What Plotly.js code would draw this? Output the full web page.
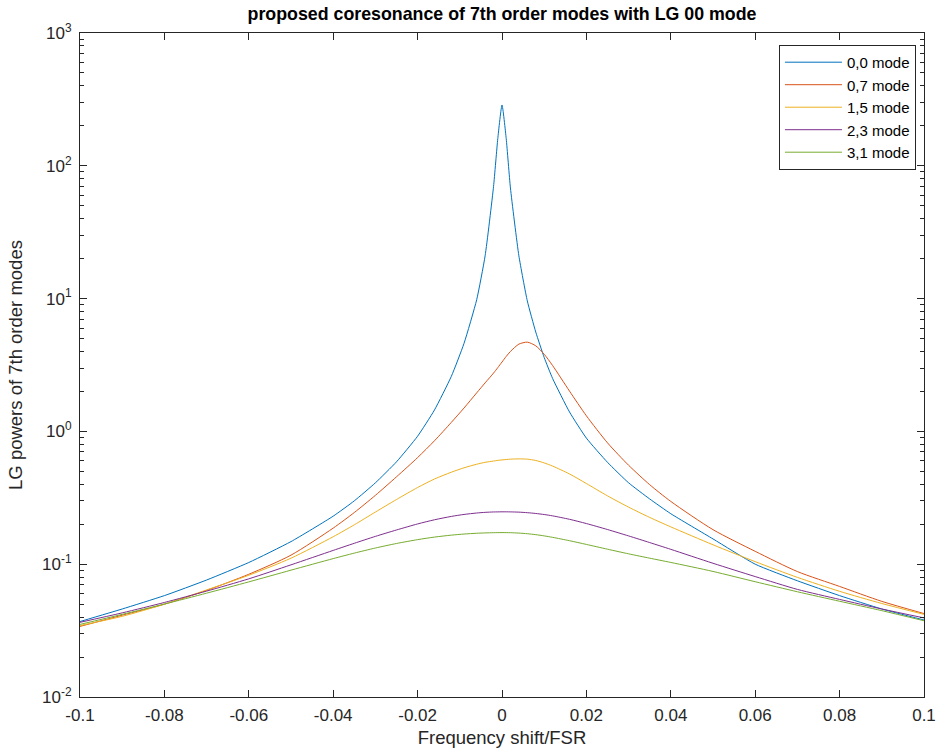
<!DOCTYPE html>
<html><head><meta charset="utf-8">
<script src="https://cdn.plot.ly/plotly-3.0.1.min.js"></script>
<style>html,body{margin:0;padding:0;background:#fff}</style>
</head><body><div id="chart" style="width:941px;height:750px"></div>
<script>
// Frequency shift / FSR (sample positions)
const freqShift = [-0.1, -0.09, -0.08, -0.07, -0.06, -0.05, -0.04, -0.035, -0.03, -0.025, -0.02, -0.016, -0.012, -0.009, -0.006, -0.004, -0.002, -0.001, 0, 0.001, 0.002, 0.004, 0.006, 0.008, 0.01, 0.012, 0.016, 0.02, 0.025, 0.03, 0.035, 0.04, 0.05, 0.06, 0.07, 0.08, 0.09, 0.1];

const mode00 = [0.037, 0.046, 0.058, 0.076, 0.103, 0.148, 0.23, 0.30, 0.41, 0.59, 0.92, 1.45, 2.6, 4.6, 9.8, 21, 70, 160, 287, 160, 68, 21, 9.6, 5.6, 3.6, 2.5, 1.4, 0.89, 0.585, 0.41, 0.31, 0.24, 0.155, 0.100, 0.075, 0.058, 0.046, 0.038];
const mode07 = [0.034, 0.0413, 0.050, 0.0635, 0.084, 0.117, 0.187, 0.245, 0.33, 0.455, 0.635, 0.85, 1.17, 1.5, 1.95, 2.32, 2.75, 3.02, 3.33, 3.67, 4.0, 4.54, 4.7, 4.41, 3.81, 3.13, 2.01, 1.31, 0.82, 0.556, 0.397, 0.297, 0.182, 0.125, 0.088, 0.068, 0.0525, 0.0425];
const mode15 = [0.0345, 0.0405, 0.050, 0.064, 0.0826, 0.111, 0.161, 0.198, 0.247, 0.307, 0.378, 0.438, 0.493, 0.532, 0.566, 0.585, 0.598, 0.605, 0.610, 0.614, 0.618, 0.621, 0.618, 0.604, 0.579, 0.548, 0.478, 0.405, 0.327, 0.269, 0.225, 0.191, 0.140, 0.1045, 0.0796, 0.0625, 0.0506, 0.0419];
const mode23 = [0.0365, 0.043, 0.0515, 0.0627, 0.0776, 0.0989, 0.127, 0.1437, 0.162, 0.181, 0.201, 0.216, 0.229, 0.237, 0.2429, 0.2457, 0.2474, 0.2477, 0.248, 0.248, 0.2477, 0.2466, 0.2443, 0.241, 0.2366, 0.2312, 0.2178, 0.2023, 0.1824, 0.1633, 0.1455, 0.1294, 0.1016, 0.0807, 0.0646, 0.0543, 0.046, 0.0394];
const mode31 = [0.0352, 0.0419, 0.0501, 0.0605, 0.0736, 0.0902, 0.1102, 0.1212, 0.1324, 0.1432, 0.1531, 0.160, 0.1655, 0.1687, 0.171, 0.172, 0.1727, 0.1729, 0.173, 0.1729, 0.1727, 0.1715, 0.1696, 0.1669, 0.1634, 0.1593, 0.1503, 0.1409, 0.1297, 0.1197, 0.111, 0.1031, 0.0882, 0.0738, 0.062, 0.0526, 0.0447, 0.0375];

const seriesNames = ['0,0 mode', '0,7 mode', '1,5 mode', '2,3 mode', '3,1 mode'];
const xTickVals = [-0.1, -0.08, -0.06, -0.04, -0.02, 0, 0.02, 0.04, 0.06, 0.08, 0.1];
const xTickText = ['-0.1', '-0.08', '-0.06', '-0.04', '-0.02', '0', '0.02', '0.04', '0.06', '0.08', '0.1'];
const yTickVals = [0.01, 0.1, 1, 10, 100, 1000];
const yTickText = ['10<sup>-2</sup>', '10<sup>-1</sup>', '10<sup>0</sup>', '10<sup>1</sup>', '10<sup>2</sup>', '10<sup>3</sup>'];

const colors = ['#0072BD', '#D95319', '#EDB120', '#7E2F8E', '#77AC30'];
const ys = [mode00, mode07, mode15, mode23, mode31];

const traces = ys.map((y, i) => ({
  x: freqShift, y: y, name: seriesNames[i], type: 'scatter', mode: 'lines',
  line: {color: colors[i], width: 1, shape: 'spline', smoothing: i === 0 ? 0.5 : 0.7}
}));

const axCol = '#262626';
const fam = 'Liberation Sans, Arial, sans-serif';
const layout = {
  width: 941, height: 750,
  margin: {l: 80, r: 17, t: 33, b: 53},
  paper_bgcolor: '#fff', plot_bgcolor: '#fff',
  font: {family: fam, size: 17, color: axCol},
  title: {text: '<b>proposed coresonance of 7th order modes with LG 00 mode</b>',
          font: {size: 17.8, color: '#000', family: fam},
          x: 0.5, xref: 'paper', xanchor: 'center', y: 1 - 14/750, yref: 'container', yanchor: 'middle'},
  xaxis: {range: [-0.1, 0.1], tickmode: 'array', tickvals: xTickVals, ticktext: xTickText,
          ticks: 'inside', ticklen: 7, tickcolor: axCol, showline: true, linecolor: axCol, linewidth: 1,
          mirror: 'ticks', showgrid: false, zeroline: false, ticklabelstandoff: 3,
          tickfont: {size: 17, color: axCol, family: fam},
          title: {text: 'Frequency shift/FSR', font: {size: 18.5, color: axCol, family: fam}, standoff: 6}},
  yaxis: {type: 'log', range: [-2, 3], tickmode: 'array', tickvals: yTickVals, ticktext: yTickText,
          ticks: 'inside', ticklen: 7, tickcolor: axCol, showline: true, linecolor: axCol, linewidth: 1,
          mirror: 'ticks', showgrid: false, zeroline: false, ticklabelstandoff: 4,
          minor: {ticks: 'inside', ticklen: 4, tickcolor: axCol, dtick: 'D1', showgrid: false},
          tickfont: {size: 17, color: axCol, family: fam},
          title: {text: 'LG powers of 7th order modes', font: {size: 18.5, color: axCol, family: fam}, standoff: 14}},
  legend: {x: 0.9905, y: 0.982, xanchor: 'right', yanchor: 'top', bgcolor: '#fff',
           bordercolor: axCol, borderwidth: 1, font: {size: 15, color: '#000', family: fam}, itemwidth: 57,
           tracegroupgap: 0},
  showlegend: true
};

Plotly.newPlot('chart', traces, layout, {displayModeBar: false, responsive: false});
</script>
</body></html>
